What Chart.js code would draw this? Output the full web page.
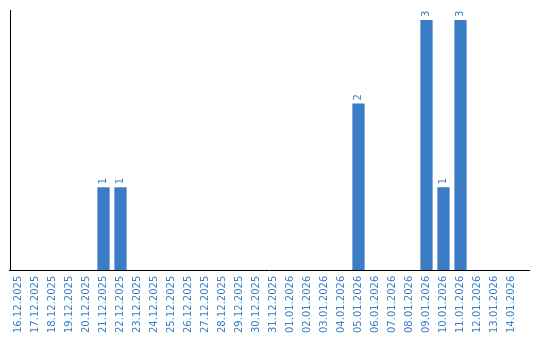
<!DOCTYPE html>
<html>
<head>
<meta charset="utf-8">
<script src="https://cdn.jsdelivr.net/npm/chart.js@4/dist/chart.umd.min.js"></script>
<style>
html,body{margin:0;padding:0;background:#fff;}
canvas{display:block;}
</style>
</head>
<body>
<canvas id="c" width="540" height="340"></canvas>
<script>
const categories = [
  "16.12.2025","17.12.2025","18.12.2025","19.12.2025","20.12.2025","21.12.2025","22.12.2025",
  "23.12.2025","24.12.2025","25.12.2025","26.12.2025","27.12.2025","28.12.2025","29.12.2025",
  "30.12.2025","31.12.2025","01.01.2026","02.01.2026","03.01.2026","04.01.2026","05.01.2026",
  "06.01.2026","07.01.2026","08.01.2026","09.01.2026","10.01.2026","11.01.2026","12.01.2026",
  "13.01.2026","14.01.2026"
];
const counts = [0,0,0,0,0,1,1,0,0,0,0,0,0,0,0,0,0,0,0,0,2,0,0,0,3,1,3,0,0,0];
const yMax = 3.12;

const BLUE = '#3b7dc4';
const FONT = "'DejaVu Sans', sans-serif";

const valueLabels = {
  id: 'valueLabels',
  afterDatasetsDraw(chart) {
    const ctx = chart.ctx;
    const meta = chart.getDatasetMeta(0);
    ctx.save();
    ctx.fillStyle = BLUE;
    ctx.font = "10px " + FONT;
    ctx.textAlign = 'left';
    ctx.textBaseline = 'middle';
    meta.data.forEach((bar, i) => {
      const v = chart.data.datasets[0].data[i];
      if (!v) return;
      ctx.save();
      ctx.translate(bar.x, bar.y - 3);
      ctx.rotate(-Math.PI / 2);
      ctx.fillText(String(v), 0, 0);
      ctx.restore();
    });
    ctx.restore();
  }
};

const xAxisLine = {
  id: 'xAxisLine',
  afterDraw(chart) {
    const ctx = chart.ctx;
    const a = chart.chartArea;
    ctx.save();
    ctx.strokeStyle = '#000';
    ctx.lineWidth = 1;
    ctx.beginPath();
    const y = Math.round(a.bottom - 0.5) + 0.5;
    ctx.moveTo(Math.round(a.left) - 1, y);
    ctx.lineTo(a.right + 10, y);
    ctx.stroke();
    ctx.restore();
  }
};

new Chart(document.getElementById('c'), {
  type: 'bar',
  data: {
    labels: categories,
    datasets: [{
      data: counts,
      backgroundColor: BLUE,
      borderWidth: 0
    }]
  },
  options: {
    responsive: false,
    animation: false,
    layout: { padding: { top: 10, left: 10, right: 20, bottom: 2 } },
    plugins: { legend: { display: false }, tooltip: { enabled: false } },
    scales: {
      x: {
        grid: { display: false, drawTicks: false },
        border: { display: false },
        ticks: {
          color: BLUE,
          font: { family: FONT, size: 10 },
          minRotation: 90, maxRotation: 90,
          autoSkip: false,
          padding: 5
        }
      },
      y: {
        min: 0, max: yMax,
        grid: { display: false, drawTicks: false },
        border: { display: true, color: '#000', width: 1 },
        ticks: { display: false }
      }
    }
  },
  plugins: [valueLabels, xAxisLine]
});
</script>
</body>
</html>
